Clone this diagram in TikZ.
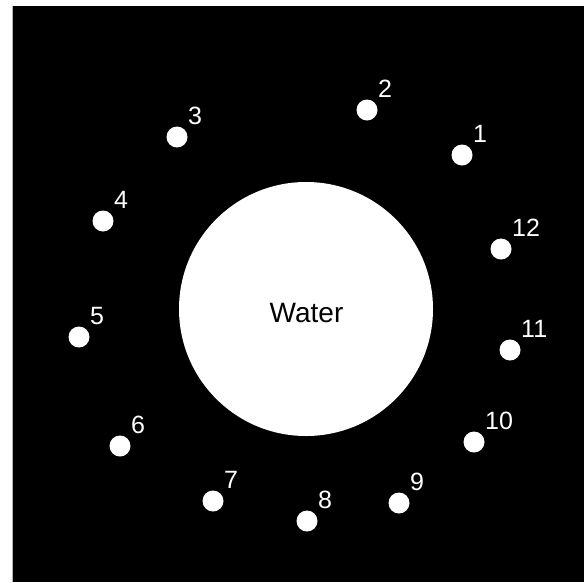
\documentclass[tikz,border=0pt]{standalone}
\usepackage{fontspec}
\setmainfont{Liberation Sans}
\usetikzlibrary{positioning}
\tikzset{
  pool/.style={circle, fill=white, draw=none, minimum size=254pt, inner sep=0pt},
  probe/.style={circle, fill=white, draw=none, minimum size=21pt, inner sep=0pt},
  tag/.style={text=white, inner sep=0pt, font=\fontsize{25}{30}\selectfont, anchor=base west}
}

\begin{document}
\begin{tikzpicture}[x=1pt, y=-1pt]

\useasboundingbox (0,0) rectangle (584,582);
\fill[black] (12,6) rectangle (584,582);
\draw[gray!60, line width=1pt] (12.5,6) -- (12.5,582);

\node[pool] (pool) at (306,309) {};
\node[font=\fontsize{28}{32}\selectfont] (water) at ([shift={(0.5,3.5)}]pool.center) {Water};

% probes round the water
\foreach \n/\x/\y in {1/462/155, 2/367/110, 3/177/137, 4/103/221, 5/79/337, 6/120/446,
                      7/213/501, 8/307/521, 9/399/503, 10/474/442, 11/510/350, 12/501/249}{
  \node[probe] (p\n) at (\x,\y) {};
  \node[tag] (t\n) at ([shift={(11,-13)}]p\n.center) {\n};
}

\end{tikzpicture}
\end{document}
